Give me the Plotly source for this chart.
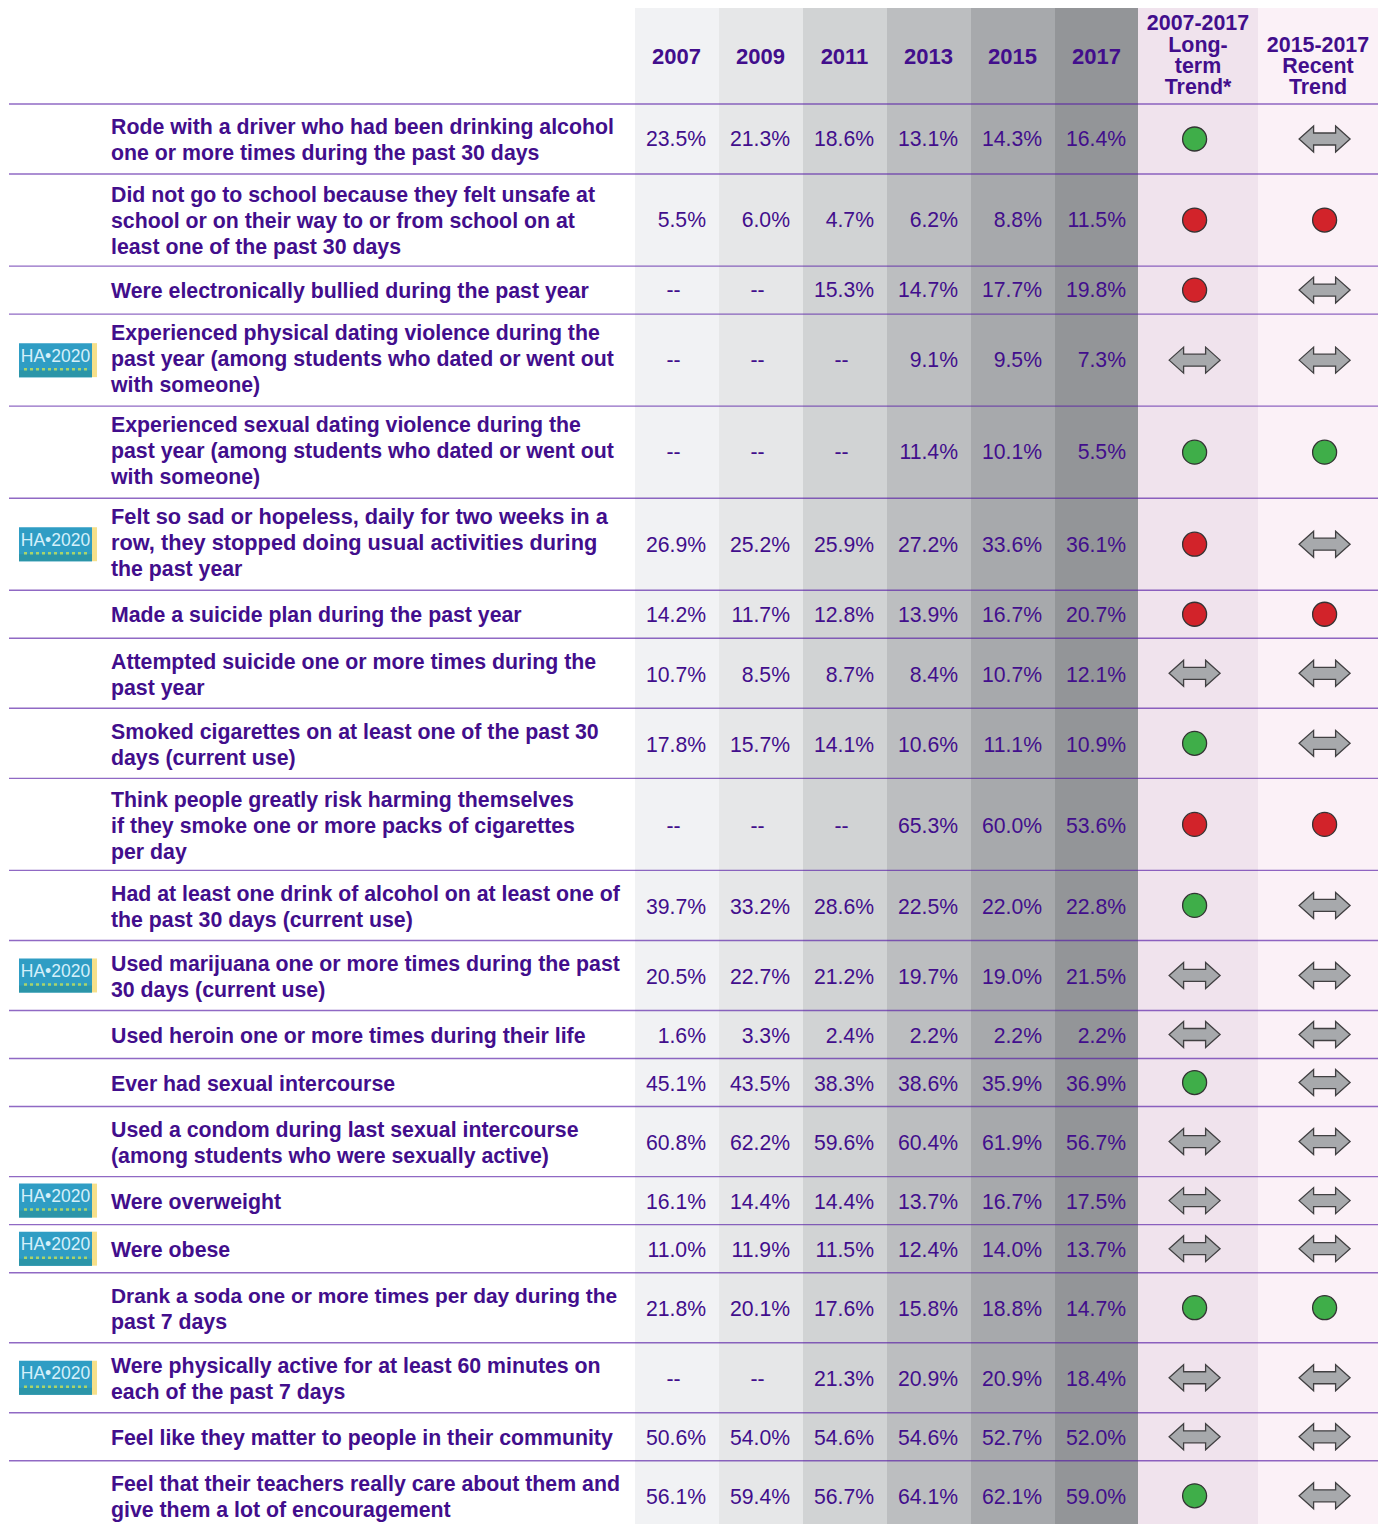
import plotly.graph_objects as go

# ---------- data ----------
labels = [
    "Rode with a driver who had been drinking alcohol|one or more times during the past 30 days",
    "Did not go to school because they felt unsafe at|school or on their way to or from school on at|least one of the past 30 days",
    "Were electronically bullied during the past year",
    "Experienced physical dating violence during the|past year (among students who dated or went out|with someone)",
    "Experienced sexual dating violence during the|past year (among students who dated or went out|with someone)",
    "Felt so sad or hopeless, daily for two weeks in a|row, they stopped doing usual activities during|the past year",
    "Made a suicide plan during the past year",
    "Attempted suicide one or more times during the|past year",
    "Smoked cigarettes on at least one of the past 30|days (current use)",
    "Think people greatly risk harming themselves|if they smoke one or more packs of cigarettes|per day",
    "Had at least one drink of alcohol on at least one of|the past 30 days (current use)",
    "Used marijuana one or more times during the past|30 days (current use)",
    "Used heroin one or more times during their life",
    "Ever had sexual intercourse",
    "Used a condom during last sexual intercourse|(among students who were sexually active)",
    "Were overweight",
    "Were obese",
    "Drank a soda one or more times per day during the|past 7 days",
    "Were physically active for at least 60 minutes on|each of the past 7 days",
    "Feel like they matter to people in their community",
    "Feel that their teachers really care about them and|give them a lot of encouragement",
]
years = ["2007", "2009", "2011", "2013", "2015", "2017"]
v2007 = [23.5, 5.5, None, None, None, 26.9, 14.2, 10.7, 17.8, None, 39.7, 20.5, 1.6, 45.1, 60.8, 16.1, 11.0, 21.8, None, 50.6, 56.1]
v2009 = [21.3, 6.0, None, None, None, 25.2, 11.7, 8.5, 15.7, None, 33.2, 22.7, 3.3, 43.5, 62.2, 14.4, 11.9, 20.1, None, 54.0, 59.4]
v2011 = [18.6, 4.7, 15.3, None, None, 25.9, 12.8, 8.7, 14.1, None, 28.6, 21.2, 2.4, 38.3, 59.6, 14.4, 11.5, 17.6, 21.3, 54.6, 56.7]
v2013 = [13.1, 6.2, 14.7, 9.1, 11.4, 27.2, 13.9, 8.4, 10.6, 65.3, 22.5, 19.7, 2.2, 38.6, 60.4, 13.7, 12.4, 15.8, 20.9, 54.6, 64.1]
v2015 = [14.3, 8.8, 17.7, 9.5, 10.1, 33.6, 16.7, 10.7, 11.1, 60.0, 22.0, 19.0, 2.2, 35.9, 61.9, 16.7, 14.0, 18.8, 20.9, 52.7, 62.1]
v2017 = [16.4, 11.5, 19.8, 7.3, 5.5, 36.1, 20.7, 12.1, 10.9, 53.6, 22.8, 21.5, 2.2, 36.9, 56.7, 17.5, 13.7, 14.7, 18.4, 52.0, 59.0]
values = [v2007, v2009, v2011, v2013, v2015, v2017]
long_trend = list("GRRSGRRSGRGSSGSSSGSSG")
recent_trend = list("SRSSGSRSSRSSSSSSSGSSS")
ha2020 = [3, 5, 11, 15, 16, 18]
long_head = ["2007-2017", "Long-", "term", "Trend*"]
recent_head = ["2015-2017", "Recent", "Trend"]

# ---------- styling ----------
W, H = 1381, 1524
PAGE = 8  # the page's own margin; axes are in page pixels
PURPLE = "#420e8c"
FONT = "Liberation Sans"
col_fill = ["#f1f2f4", "#e6e7e8", "#d1d3d4", "#bcbec0", "#a7a9ac", "#939598"]
X0, STEP = 635, 84
TOP, HEAD = 8, 104
LONG = (1138, 1258)
RECENT = (1258, 1378)
row_h = {1: 48, 2: 70, 3: 92}
LH = 25.7
LABEL_FS = 21.3
LINE_FS = {(5, 0): 21.75, (5, 1): 21.75, (17, 0): 20.9}  # lines set tighter or looser in the source
VAL_FS = 21.2
DY = 2


def label_shift(r):
    if r in (3, 4, 5):
        return -2
    return 0.7 if r >= 7 else 0


def value_shift(r):
    return 1 if r >= 7 else 0


lines_per_row = [len(s.split("|")) for s in labels]
edges = [HEAD]
for n in lines_per_row:
    edges.append(edges[-1] + row_h[n] + 0.04)
centers = [(a + b) / 2 for a, b in zip(edges[:-1], edges[1:])]

shapes = []
for i, c in enumerate(col_fill):
    shapes.append(dict(type="rect", layer="below", x0=X0 + i * STEP, x1=X0 + (i + 1) * STEP, y0=TOP, y1=H,
                       fillcolor=c, line_width=0))
for (a, b), c in ((LONG, "#f0e3ed"), (RECENT, "#fbf1f7")):
    shapes.append(dict(type="rect", layer="below", x0=a, x1=b, y0=TOP, y1=H, fillcolor=c, line_width=0))
for e in edges[:-1]:
    shapes.append(dict(type="line", layer="below", x0=9, x1=1378, y0=e, y1=e,
                       line=dict(color="rgba(85,25,165,0.65)", width=1.4)))

ARROW = "M-25.5 0 L-11 -13 L-11 -6 L11 -6 L11 -13 L25.5 0 L11 13 L11 6 L-11 6 L-11 13 Z"
dot_x = {"G": [], "R": []}
dot_y = {"G": [], "R": []}
for cx, trend in ((1194.6, long_trend), (1324.6, recent_trend)):
    for y, t in zip(centers, trend):
        if t == "S":
            shapes.append(dict(type="path", xsizemode="pixel", ysizemode="pixel", xanchor=cx, yanchor=y,
                               path=ARROW, fillcolor="#a7a9ac", line=dict(color="#414042", width=1.3)))
        else:
            dot_x[t].append(cx)
            dot_y[t].append(y)

# HA 2020 badges
for r in ha2020:
    y = centers[r]
    shapes.append(dict(type="rect", layer="below", x0=92, x1=97, y0=y - 17, y1=y + 17, fillcolor="#f6e08a", line_width=0))
    shapes.append(dict(type="rect", layer="below", x0=19, x1=92, y0=y - 17, y1=y + 17, fillcolor="#2f9dc4", line_width=0))
    shapes.append(dict(type="rect", layer="below", x0=19, x1=92, y0=y + 10, y1=y + 17, fillcolor="#2b95a8", line_width=0))
    shapes.append(dict(type="line", layer="below", x0=24, x1=90, y0=y + 9, y1=y + 9,
                       line=dict(color="#a9d46a", width=2.5, dash="dot")))

fig = go.Figure()

# Row labels, one line of text per point so the leading can match
lx, ly, lt, ls = [], [], [], []
for r, (s, c) in enumerate(zip(labels, centers)):
    parts = s.split("|")
    for i, p in enumerate(parts):
        lx.append(111)
        ly.append(c + 2.5 + label_shift(r) + (i - (len(parts) - 1) / 2) * LH)
        lt.append(p)
        ls.append(LINE_FS.get((r, i), LABEL_FS))
fig.add_trace(go.Scatter(x=lx, y=ly, text=lt, mode="text", textposition="middle right",
                         textfont=dict(family=FONT, size=ls, color=PURPLE, weight="bold"), hoverinfo="skip"))

# Values
for i, (yr, col) in enumerate(zip(years, values)):
    right = X0 + i * STEP + 71
    xs = [right for v in col if v is not None]
    ys = [c + DY + value_shift(r) for r, (v, c) in enumerate(zip(col, centers)) if v is not None]
    ts = [f"{v:.1f}%" for v in col if v is not None]
    fig.add_trace(go.Scatter(x=xs, y=ys, text=ts, mode="text", textposition="middle left", name=yr,
                             textfont=dict(family=FONT, size=VAL_FS, color=PURPLE), hoverinfo="skip"))
    dx = [X0 + i * STEP + 38.5 for v in col if v is None]
    dy = [c + DY + value_shift(r) for r, (v, c) in enumerate(zip(col, centers)) if v is None]
    if dx:
        fig.add_trace(go.Scatter(x=dx, y=dy, text=["--"] * len(dx), mode="text", textposition="middle center",
                                 textfont=dict(family=FONT, size=VAL_FS, color=PURPLE), hoverinfo="skip"))

# Headers
fig.add_trace(go.Scatter(x=[X0 + i * STEP + 41.5 for i in range(6)], y=[57 + DY - 1] * 6, text=years, mode="text",
                         textposition="middle center",
                         textfont=dict(family=FONT, size=22, color=PURPLE, weight="bold"), hoverinfo="skip"))
hx = [1198] * len(long_head) + [1318] * len(recent_head)
hy = [23 + DY + 21.2 * i for i in range(len(long_head))] + [45 + DY + 21 * i for i in range(len(recent_head))]
fig.add_trace(go.Scatter(x=hx, y=hy, text=long_head + recent_head, mode="text", textposition="middle center",
                         textfont=dict(family=FONT, size=21.4, color=PURPLE, weight="bold"), hoverinfo="skip"))

# Trend dots
for k, col in (("G", "#3fae49"), ("R", "#d2232a")):
    fig.add_trace(go.Scatter(x=dot_x[k], y=dot_y[k], mode="markers", hoverinfo="skip",
                             marker=dict(size=24, color=col, line=dict(color="#333333", width=1.3))))

# Badge wordmark
fig.add_trace(go.Scatter(x=[55.5] * len(ha2020), y=[centers[r] - 3 for r in ha2020], text=["HA•2020"] * len(ha2020),
                         mode="text", textposition="middle center",
                         textfont=dict(family=FONT, size=17.5, color="#d5f0fa"), hoverinfo="skip"))

fig.update_layout(
    width=W - PAGE, height=H - PAGE, margin=dict(l=0, r=0, t=0, b=0), showlegend=False,
    paper_bgcolor="white", plot_bgcolor="white", shapes=shapes,
    xaxis=dict(range=[PAGE, W], visible=False, fixedrange=True),
    yaxis=dict(range=[H, PAGE], visible=False, fixedrange=True),
)
fig.write_html(
    "out.html",
    config={"displayModeBar": False},
    default_width=f"{W - PAGE}px",
    default_height=f"{H - PAGE}px",
    post_script=(
        "var g=document.getElementById('{plot_id}');"
        "document.body.style.width='%dpx';"
        "g.style.width='%dpx';g.style.overflow='visible';"
        "g.parentElement.style.width='%dpx';g.parentElement.style.overflow='visible';"
        % (W - PAGE, W - PAGE, W - PAGE)
    ),
)
